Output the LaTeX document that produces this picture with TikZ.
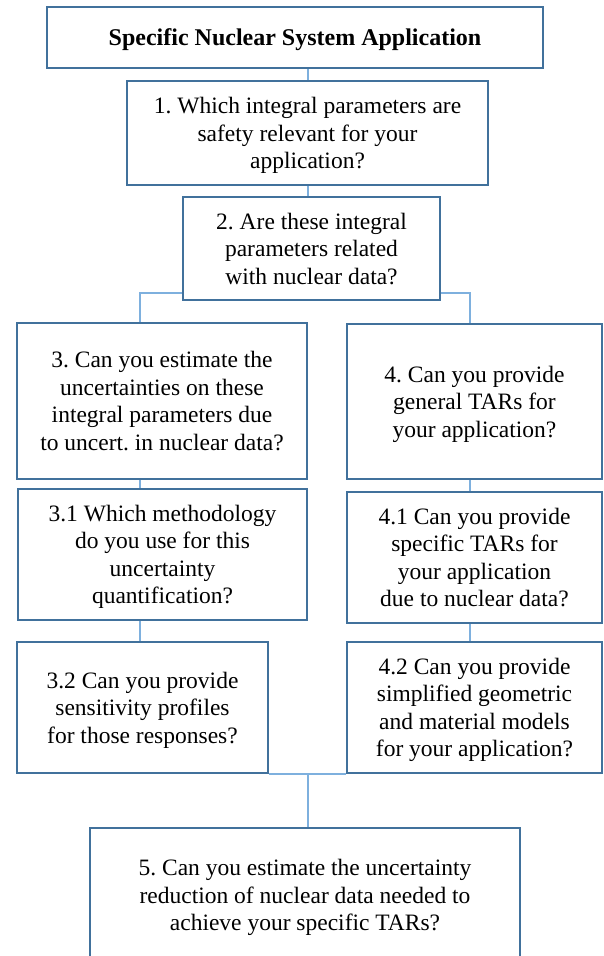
\documentclass[tikz,border=0pt]{standalone}
\usepackage{fontspec}
\setmainfont{Liberation Serif}
\frenchspacing
\definecolor{boxblue}{HTML}{41719C}
\definecolor{linkblue}{HTML}{7EB0DE}
\tikzset{
	qbox/.style={draw=boxblue, line width=2pt, fill=white, align=center, inner sep=0pt,
		font=\fontsize{23.5}{27.5}\selectfont, text depth=-5pt},
	link/.style={draw=linkblue, line width=1.3pt},
}
\begin{document}
\begin{tikzpicture}[x=1pt,y=-1pt]
			\useasboundingbox (0,0) rectangle (603,956);
			\coordinate (spine) at (308,0);
			\coordinate (lcol) at (140,0);
			\coordinate (rcol) at (470,0);
			\coordinate (fork) at (0,293);
			
			\node[qbox, minimum width=496pt, minimum height=61pt, text depth=-1pt] (top) at (295,37.5) {\fontsize{24}{27.5}\selectfont\textbf{Specific Nuclear System Application}};
			\node[qbox, minimum width=361pt, minimum height=104pt] (q1) at (307.5,133) {1. Which integral parameters are\\safety relevant for your\\application?};
			\node[qbox, minimum width=257pt, minimum height=103pt] (q2) at (311.5,248.5) {2. Are these integral\\parameters related\\with nuclear data?};
			
			\node[qbox, minimum width=290pt, minimum height=156pt] (q3) at (162,401) {3. Can you estimate the\\uncertainties on these\\integral parameters due\\to uncert. in nuclear data?};
			\node[qbox, minimum width=255pt, minimum height=155pt] (q4) at (474.5,401.5) {4. Can you provide\\general TARs for\\your application?};
			
			\node[qbox, minimum width=289pt, minimum height=131pt] (q31) at (162.5,554.5) {3.1 Which methodology\\do you use for this\\uncertainty\\quantification?};
			\node[qbox, minimum width=255pt, minimum height=131pt] (q41) at (474.5,557.5) {4.1 Can you provide\\specific TARs for\\your application\\due to nuclear data?};
			
			\node[qbox, minimum width=251pt, minimum height=131pt] (q32) at (142.5,707.5) {3.2 Can you provide\\sensitivity profiles\\for those responses?};
			\node[qbox, minimum width=255pt, minimum height=131pt] (q42) at (474.5,707.5) {4.2 Can you provide\\simplified geometric\\and material models\\for your application?};
			
			\node[qbox, minimum width=430pt, minimum height=134pt] (q5) at (305,895) {5. Can you estimate the uncertainty\\reduction of nuclear data needed to\\achieve your specific TARs?};
			
			\draw[link] (top.south -| spine) -- (q1.north -| spine);
			\draw[link] (q1.south -| spine) -- (q2.north -| spine);
			\draw[link] (q2.west |- fork) -| (q3.north -| lcol);
			\draw[link] (q2.east |- fork) -| (q4.north -| rcol);
			\draw[link] (q3.south -| lcol) -- (q31.north -| lcol);
			\draw[link] (q31.south -| lcol) -- (q32.north -| lcol);
			\draw[link] (q4.south -| rcol) -- (q41.north -| rcol);
			\draw[link] (q41.south -| rcol) -- (q42.north -| rcol);
			\draw[link] (q32.south east) -- (q42.south west);
			\draw[link] (q32.south -| spine) -- (q5.north -| spine);
\end{tikzpicture}
\end{document}
